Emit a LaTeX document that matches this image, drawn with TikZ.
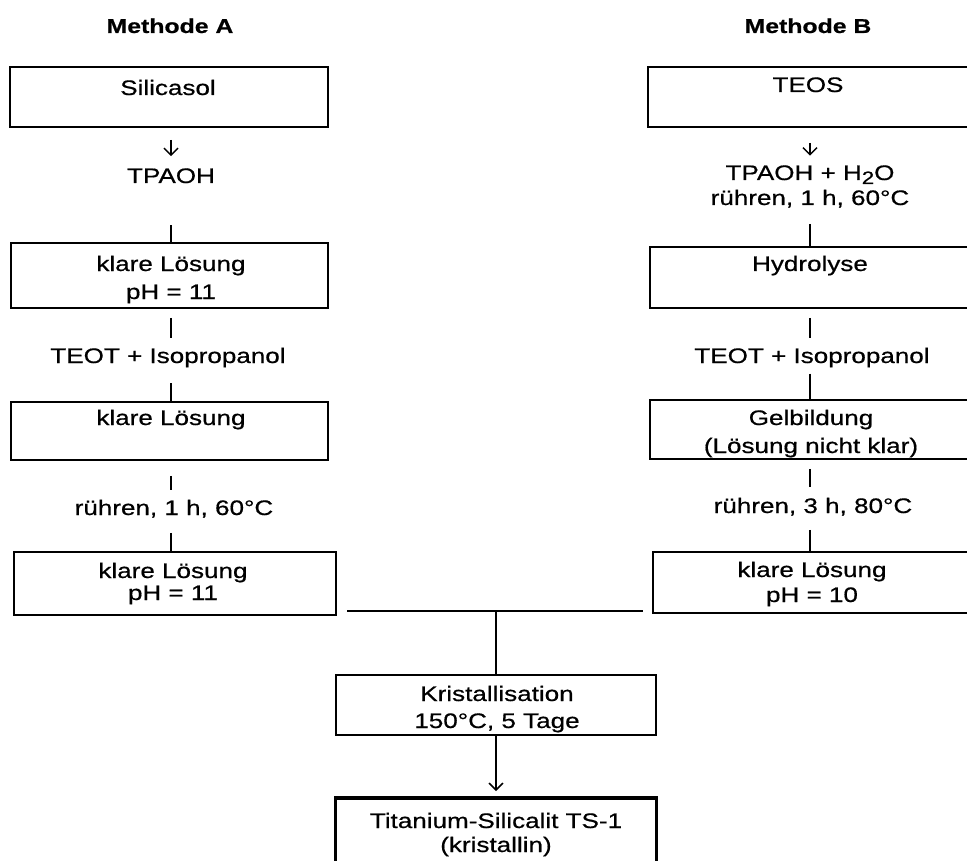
\documentclass[tikz,border=0pt]{standalone}
\usepackage{fontspec}
\setmainfont{Liberation Sans}[FakeStretch=1.24, FakeBold=0.6]
\usetikzlibrary{arrows.meta}
\begin{document}
\begin{tikzpicture}[x=1pt,y=-1pt,
  box/.style={draw, line width=1.7pt, rectangle, inner sep=0pt},
  endbox/.style={draw, line width=3.8pt, rectangle, inner sep=0pt},
  txt/.style={anchor=base, inner sep=0pt, align=center, font=\fontsize{21}{27}\selectfont},
  ttl/.style={anchor=base, inner sep=0pt, font=\fontsize{20}{24}\selectfont\bfseries},
  conn/.style={line width=1.4pt},
  arr/.style={line width=1.5pt, -{Straight Barb[length=7pt,width=14pt]}},
]
\useasboundingbox (0,0) rectangle (967,861);
\clip (0,0) rectangle (967,861);

% titles
\node[ttl] (ttlA) at (170,33) {Methode A};
\node[ttl] (ttlB) at (808,33) {Methode B};

% boxes, method A
\node[box, minimum width=318, minimum height=60] (A1) at (169,97) {};
\node[box, minimum width=317, minimum height=65] (A2) at (169.5,275.5) {};
\node[box, minimum width=317, minimum height=58] (A3) at (169.5,431) {};
\node[box, minimum width=322, minimum height=63] (A4) at (175,583.5) {};
% boxes, method B
\node[box, minimum width=328, minimum height=60] (B1) at (812,97) {};
\node[box, minimum width=326, minimum height=61] (B2) at (813,277.5) {};
\node[box, minimum width=326, minimum height=59] (B3) at (813,429.5) {};
\node[box, minimum width=323, minimum height=61] (B4) at (814.5,582.5) {};
% common boxes
\node[box, minimum width=320, minimum height=60] (K) at (496,705) {};
\node[endbox, minimum width=321, minimum height=82] (F) at (496,839) {};

% texts in boxes (anchor base = baseline of the last line)
\node[txt] (tA1) at (168,95) {Silicasol};
\node[txt, font=\fontsize{21}{28}\selectfont] (tA2) at (171,299) {klare Lösung\\pH = 11};
\node[txt] (tA3) at (171,425) {klare Lösung};
\node[txt, font=\fontsize{21}{22}\selectfont] (tA4) at (173,600) {klare Lösung\\pH = 11};
\node[txt] (tB1) at (808,92) {TEOS};
\node[txt] (tB2) at (810,271) {Hydrolyse};
\node[txt, font=\fontsize{21}{28}\selectfont] (tB3) at (811,453) {Gelbildung\\(Lösung nicht klar)};
\node[txt, font=\fontsize{21}{25}\selectfont] (tB4) at (812,602) {klare Lösung\\pH = 10};
\node[txt, font=\fontsize{21}{27}\selectfont] (tK) at (497,728) {Kristallisation\\150°C, 5 Tage};
\node[txt, font=\fontsize{21}{24}\selectfont] (tF) at (496,852) {Titanium-Silicalit TS-1\\(kristallin)};

% step labels
\node[txt] (tpaohA) at (171,183) {TPAOH};
\node[txt] (teotA) at (168,363) {TEOT + Isopropanol};
\node[txt] (ruehA) at (174,515) {rühren, 1 h, 60°C};
\node[txt, font=\fontsize{21}{25}\selectfont] (tpaohB) at (810,205)
  {TPAOH + H\raisebox{-4pt}{\fontsize{18}{18}\selectfont 2}O\\rühren, 1 h, 60°C};
\node[txt] (teotB) at (812,363) {TEOT + Isopropanol};
\node[txt] (ruehB) at (813,513) {rühren, 3 h, 80°C};

% connectors, method A
\draw[arr, shorten <=12pt, shorten >=12pt] (A1.south -| tpaohA) -- (tpaohA.north);
\draw[conn, shorten <=42pt] (tpaohA.south) -- (A2.north -| tpaohA);
\draw[conn, shorten <=9pt, shorten >=9.5pt] (A2.south -| tpaohA) -- (tpaohA |- teotA.north);
\draw[conn, shorten <=15.5pt] (tpaohA |- teotA.south) -- (A3.north -| tpaohA);
\draw[conn, shorten <=15pt, shorten >=9.5pt] (A3.south -| tpaohA) -- (tpaohA |- ruehA.north);
\draw[conn, shorten <=15pt] (tpaohA |- ruehA.south) -- (A4.north -| tpaohA);

% connectors, method B
\draw[arr, shorten <=15pt, shorten >=9.5pt] (B1.south -| tpaohB) -- (tpaohB.north);
\draw[conn, shorten <=16pt] (tpaohB.south) -- (B2.north -| tpaohB);
\draw[conn, shorten <=9pt, shorten >=9.5pt] (B2.south -| tpaohB) -- (tpaohB |- teotB.north);
\draw[conn, shorten <=6pt] (tpaohB |- teotB.south) -- (B3.north -| tpaohB);
\draw[conn, shorten <=9pt, shorten >=10.5pt] (B3.south -| tpaohB) -- (tpaohB |- ruehB.north);
\draw[conn, shorten <=14pt] (tpaohB |- ruehB.south) -- (B4.north -| tpaohB);

% merge
\coordinate (jl) at (347,611);
\coordinate (jr) at (643,611);
\coordinate (jm) at (496,611);
\draw[conn] (jl) -- (jr);
\draw[conn] (jm) -- (K.north);
\draw[arr, shorten >=5pt] (K.south) -- (F.north);
\end{tikzpicture}
\end{document}
